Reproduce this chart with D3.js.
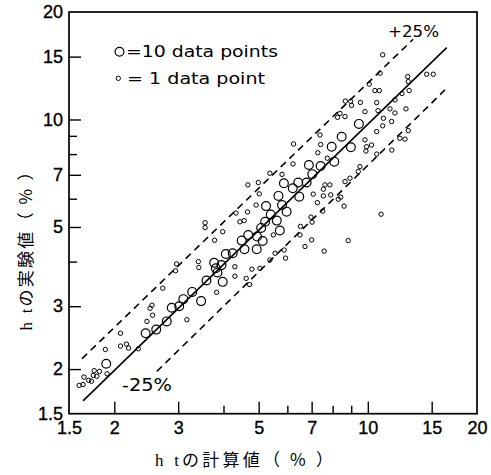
<!DOCTYPE html>
<html><head><meta charset="utf-8">
<script src="https://cdn.jsdelivr.net/npm/d3@7"></script>
<style>body{margin:0;background:#fff}svg{display:block}</style>
</head><body>
<svg id="c" width="491" height="475"></svg>
<script>
// ---- data ----
const tickLabels = [1.5, 2, 3, 5, 7, 10, 15, 20];
const majorTicks = [2, 3, 5, 7, 10, 15];
const minorTicks = [4, 6, 8, 9];

const bigPoints = [
[1.90,2.07],[2.44,2.52],[2.61,2.58],[2.79,2.72],[2.88,2.97],[3.02,3.00],[3.10,3.14],[3.28,3.29],[3.47,3.10],[3.59,3.54],
[3.98,3.51],[3.77,3.97],[3.81,3.83],[3.85,3.73],[3.95,3.91],[4.06,4.20],[4.24,4.22],[4.49,4.58],[4.57,4.33],[4.94,4.33],
[4.68,4.75],[4.95,4.70],[5.13,4.57],[5.08,4.97],[5.21,5.17],[5.61,5.21],[5.40,5.42],[5.72,4.89],[5.24,5.72],[5.67,6.11],
[5.80,5.76],[5.97,5.52],[6.21,6.42],[5.87,6.63],[6.43,6.66],[6.78,6.66],[6.47,6.08],[6.88,7.46],[7.41,7.41],[7.03,7.03],
[7.95,8.39],[8.98,8.36],[8.08,7.62],[8.47,8.95],[9.45,9.72]
];

const smallPoints = [
[1.60,1.80],[1.64,1.81],[1.65,1.90],[1.70,1.86],[1.73,1.85],[1.75,1.92],[1.76,1.98],[1.82,1.97],[1.79,1.91],[1.91,1.94],
[1.89,2.27],[2.08,2.52],[2.08,2.32],[2.16,2.35],[2.19,2.29],[2.33,2.28],[2.46,2.72],[2.54,3.02],[2.55,2.83],[2.51,2.96],
[2.72,3.37],[3.17,2.75],[2.97,3.94],[2.95,3.77],[3.41,4.00],[3.42,3.85],[3.83,3.28],[3.78,4.59],[3.56,5.14],[3.56,4.98],
[3.98,4.85],[4.33,5.47],[4.66,5.51],[4.44,5.17],[4.56,5.21],[5.02,6.19],[4.92,5.76],[5.55,4.22],[4.30,3.87],[4.79,3.81],
[5.04,3.83],[5.37,4.04],[4.30,3.64],[4.62,3.59],[4.72,3.45],[5.88,4.31],[5.93,4.09],[6.50,4.75],[6.71,4.41],[7.00,4.60],
[7.58,4.28],[8.83,4.58],[6.52,5.02],[6.97,5.33],[7.02,5.16],[7.51,5.54],[7.07,6.18],[7.54,6.11],[7.90,6.15],[8.42,6.06],
[8.29,5.98],[7.26,5.85],[8.60,5.72],[10.88,5.43],[7.62,6.56],[7.54,6.38],[7.86,6.56],[8.65,6.70],[8.93,6.85],[9.51,7.38],
[9.41,7.15],[9.88,8.16],[9.92,8.39],[10.24,8.48],[9.82,8.77],[10.58,8.00],[10.58,9.25],[12.26,8.86],[12.93,9.31],[12.66,8.81],
[11.65,8.21],[10.99,9.60],[11.63,9.87],[11.04,10.08],[11.88,10.43],[11.51,10.71],[12.74,10.71],[11.88,11.35],[12.42,11.82],[13.00,12.05],
[10.58,11.15],[10.67,10.59],[9.82,10.52],[9.54,11.16],[8.67,11.26],[8.97,11.25],[9.02,10.95],[8.38,10.40],[8.25,10.14],[8.65,10.19],
[10.09,12.56],[10.46,12.05],[10.76,12.05],[10.81,13.48],[10.99,15.17],[12.88,13.19],[12.93,12.77],[14.53,13.39],[15.15,13.39],[7.38,9.05],
[7.41,8.51],[7.28,8.07],[6.24,8.54],[6.22,7.51],[5.80,7.02],[5.37,7.07],[4.99,6.66],[4.67,6.56],[7.73,7.79],[5.49,4.75]
];

const refLine   = [[1.64,1.63],[16.5,15.9]];   // y = x
const upperLine = [[1.63,2.14],[13.34,16.78]]; // +25%
const lowerLine = [[2.62,1.97],[16.32,12.1]];  // -25%

// ---- drawing ----
const svg = d3.select("#c");
const L = 69, R = 477, T = 12, B = 413.7;
const x = d3.scaleLog().domain([1.5, 20]).range([L, R]);
const y = d3.scaleLog().domain([1.5, 20]).range([B, T]);
const numFont = "'Liberation Sans', Arial, sans-serif";

function tickAxis(gen, vals, size, tf){
  return gen.tickValues(vals).tickSize(size).tickFormat(tf);
}
const gx1 = svg.append("g").attr("transform", `translate(0,${B})`)
  .call(tickAxis(d3.axisBottom(x), majorTicks, -12, ""));
const gx2 = svg.append("g").attr("transform", `translate(0,${B})`)
  .call(tickAxis(d3.axisBottom(x), minorTicks, -8, ""));
const gy1 = svg.append("g").attr("transform", `translate(${L},0)`)
  .call(tickAxis(d3.axisLeft(y), majorTicks, -12, ""));
const gy2 = svg.append("g").attr("transform", `translate(${L},0)`)
  .call(tickAxis(d3.axisLeft(y), minorTicks, -8, ""));
[gx1,gx2,gy1,gy2].forEach(g=>{
  g.select(".domain").remove();
  g.selectAll(".tick line").attr("stroke","#000").attr("stroke-width",1.4);
});

const lx = svg.append("g").attr("transform", `translate(0,${B})`)
  .call(d3.axisBottom(x).tickValues(tickLabels).tickSize(0).tickPadding(8).tickFormat(d3.format("")));
const ly = svg.append("g").attr("transform", `translate(${L},0)`)
  .call(d3.axisLeft(y).tickValues(tickLabels).tickSize(0).tickPadding(6).tickFormat(d3.format("")));
[lx,ly].forEach(g=>{
  g.select(".domain").remove();
  g.selectAll("text").attr("font-family", numFont).attr("font-size", 18).attr("fill","#000")
    .attr("stroke","#000").attr("stroke-width",0.35);
});

svg.append("rect").attr("x", L).attr("y", T).attr("width", R-L).attr("height", B-T)
  .attr("fill","none").attr("stroke","#000").attr("stroke-width",1.7);

const line = d3.line().x(d=>x(d[0])).y(d=>y(d[1]));
svg.append("path").attr("d", line(refLine)).attr("stroke","#000").attr("stroke-width",1.6).attr("fill","none");
svg.append("path").attr("d", line(upperLine)).attr("stroke","#000").attr("stroke-width",1.6)
  .attr("stroke-dasharray","7,5").attr("fill","none");
svg.append("path").attr("d", line(lowerLine)).attr("stroke","#000").attr("stroke-width",1.6)
  .attr("stroke-dasharray","7,5").attr("fill","none");

svg.append("g").selectAll("circle").data(bigPoints).join("circle")
  .attr("cx", d=>x(d[0])).attr("cy", d=>y(d[1])).attr("r", 4.4)
  .attr("fill","none").attr("stroke","#000").attr("stroke-width",1.2);
svg.append("g").selectAll("circle").data(smallPoints).join("circle")
  .attr("cx", d=>x(d[0])).attr("cy", d=>y(d[1])).attr("r", 2.2)
  .attr("fill","none").attr("stroke","#000").attr("stroke-width",1);

const annFont = "'DejaVu Sans', sans-serif";
svg.append("text").attr("x",388).attr("y",37).attr("font-family",annFont).attr("font-size",16)
  .attr("textLength",51).attr("lengthAdjust","spacingAndGlyphs").text("+25%");
svg.append("text").attr("x",122).attr("y",391).attr("font-family",annFont).attr("font-size",18)
  .attr("textLength",50).attr("lengthAdjust","spacingAndGlyphs").text("-25%");

svg.append("circle").attr("cx",119.5).attr("cy",51.7).attr("r",4.4).attr("fill","none").attr("stroke","#000").attr("stroke-width",1.2);
svg.append("circle").attr("cx",118.3).attr("cy",78.3).attr("r",2.2).attr("fill","none").attr("stroke","#000").attr("stroke-width",1);
svg.append("text").attr("x",126).attr("y",57).attr("font-family",annFont).attr("font-size",15)
  .attr("textLength",152).attr("lengthAdjust","spacingAndGlyphs").text("=10 data points");
svg.append("text").attr("x",127).attr("y",83.5).attr("font-family",annFont).attr("font-size",15)
  .attr("textLength",138).attr("lengthAdjust","spacingAndGlyphs").text("= 1 data point");

const cjk = "'Noto Sans CJK JP', sans-serif";
const xt = svg.append("text").attr("x",244).attr("y",466).attr("text-anchor","middle")
  .attr("font-family",cjk).attr("font-size",17).attr("textLength",178).attr("lengthAdjust","spacing");
xt.append("tspan").attr("font-family","'Liberation Serif', serif").text("h t");
xt.append("tspan").text("の計算値（ % ）");
const yt = svg.append("text").attr("transform","translate(32,247) rotate(-90)").attr("text-anchor","middle")
  .attr("font-family",cjk).attr("font-size",17).attr("textLength",167).attr("lengthAdjust","spacing");
yt.append("tspan").attr("font-family","'Liberation Serif', serif").text("h t");
yt.append("tspan").text("の実験値（ % ）");
</script>
</body></html>
